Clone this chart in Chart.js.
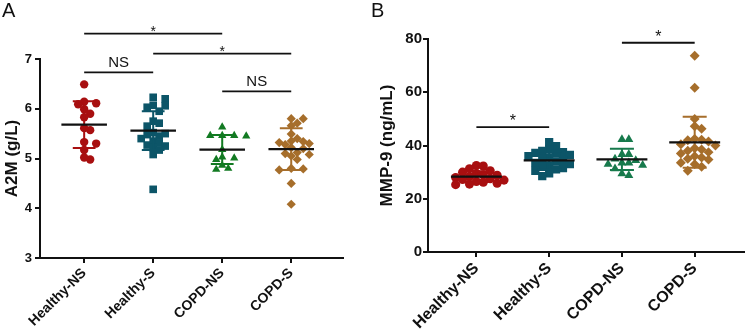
<!DOCTYPE html>
<html>
<head>
<meta charset="utf-8">
<script src="https://cdn.jsdelivr.net/npm/chart.js@4.4.0/dist/chart.umd.min.js"></script>
<style>
  body { margin: 0; background: #fff; }
  #wrap { position: relative; width: 750px; height: 335px; font-family: "Liberation Sans", Arial, sans-serif; }
  canvas { position: absolute; top: 0; }
  .tag { position: absolute; top: -1px; font-size: 20px; color: #111; }
</style>
</head>
<body>
<div id="wrap">
  <canvas id="chartA" width="375" height="335" style="left:0"></canvas>
  <canvas id="chartB" width="375" height="335" style="left:375px"></canvas>
  <div class="tag" style="left:2px">A</div>
  <div class="tag" style="left:371px">B</div>
</div>
<script>
const groups = ["Healthy-NS", "Healthy-S", "COPD-NS", "COPD-S"];
const colorsA = ["#a80f10", "#0c5568", "#127a22", "#a66e2b"];
const colorsB = ["#a80f10", "#0c5568", "#177a4c", "#a66e2b"];
const shapes = ["circle", "rect", "triangle", "rectRot"];
const radii = [4.2, 5.4, 4.8, 4.6];

// panel A - A2M (g/L)
const a2mHealthyNS = [6.49, 6.14, 6.09, 6.11, 5.99, 5.90, 5.83, 5.57, 5.61, 5.33, 5.30, 5.17, 4.98, 5.02];
const a2mHealthyS = [6.20, 6.23, 6.06, 6.03, 6.07, 5.95, 5.71, 5.75, 5.65, 5.50, 5.45, 5.52, 5.48, 5.40, 5.35, 5.27, 5.31, 5.25, 5.22, 5.17, 5.08, 4.38];
const a2mCopdNS = [5.63, 5.46, 5.46, 5.45, 5.46, 5.18, 5.01, 5.03, 4.98, 4.86, 4.78, 4.80];
const a2mCopdS = [5.80, 5.71, 5.66, 5.80, 5.49, 5.35, 5.30, 5.32, 5.28, 5.34, 5.40, 5.20, 5.22, 5.10, 5.08, 5.05, 5.12, 4.98, 4.80, 4.77, 4.79, 4.50, 4.08];
const a2mMean = [5.68, 5.56, 5.18, 5.19];
const a2mSd = [0.47, 0.39, 0.29, 0.42];
const a2mTicks = [3, 4, 5, 6, 7];

// panel B - MMP-9 (ng/mL)
const mmpHealthyNS = [32.5, 32.3, 31.3, 30.5, 30.0, 29.5, 29.0, 28.8, 28.3, 28.0, 27.5, 27.2, 27.0, 26.5, 26.2, 25.8, 25.5, 25.3];
const mmpHealthyS = [41.3, 39.8, 38.5, 38.0, 37.5, 37.2, 37.0, 36.5, 36.0, 35.5, 35.0, 34.5, 34.0, 33.5, 33.0, 32.5, 32.0, 31.5, 31.0, 30.5, 29.5, 28.5];
const mmpCopdNS = [42.3, 42.3, 36.7, 36.7, 35.0, 34.4, 33.5, 33.5, 33.0, 32.6, 31.3, 29.4, 28.8];
const mmpCopdS = [73.7, 61.7, 50.0, 47.2, 46.3, 42.5, 42.2, 42.0, 41.5, 40.5, 40.0, 39.0, 38.5, 38.0, 37.5, 37.0, 36.0, 35.5, 35.0, 34.7, 33.5, 33.0, 32.0, 30.5];
const mmpMean = [28.3, 34.4, 34.8, 41.2];
const mmpSd = [2.0, 3.4, 4.0, 9.6];
const mmpTicks = [0, 20, 40, 60, 80];

// significance brackets (group index from -> to, height in axis units)
const sigFromA = [0, 1, 0, 2];
const sigToA = [2, 3, 1, 3];
const sigYA = [7.51, 7.11, 6.73, 6.35];
const sigLabelA = ["*", "*", "NS", "NS"];
const sigFromB = [0, 2];
const sigToB = [1, 3];
const sigYB = [46.9, 78.6];
const sigLabelB = ["*", "*"];

const FONT = '"Liberation Sans", Arial, sans-serif';

// simple beeswarm: spread points sideways so they don't pile up
function swarm(vals, center, pxY, pxX, step, minD) {
  const placed = [];
  const xs = new Array(vals.length);
  const order = vals.map((v, i) => i).sort((a, b) => vals[b] - vals[a]);
  order.forEach(i => {
    const py = vals[i] * pxY;
    for (let k = 0; k < 60; k++) {
      const off = (k % 2 ? 1 : -1) * Math.ceil(k / 2) * step;
      if (placed.every(p => Math.hypot(p.x - off, p.y - py) >= minD)) {
        xs[i] = off;
        placed.push({ x: off, y: py });
        break;
      }
    }
  });
  return vals.map((v, i) => ({ x: center + xs[i] / pxX, y: v }));
}

function errBars(g, m, s) {
  const c = 0.165;
  return [
    { x: g - c, y: m + s }, { x: g + c, y: m + s }, { x: g, y: null },
    { x: g, y: m + s }, { x: g, y: m - s }, { x: g, y: null },
    { x: g - c, y: m - s }, { x: g + c, y: m - s }
  ];
}

function meanLines(means, w) {
  const out = [];
  means.forEach((m, g) => {
    out.push({ x: g - w, y: m }, { x: g + w, y: m }, { x: g, y: null });
  });
  return out;
}

function brackets(from, to, ys) {
  const out = [];
  ys.forEach((y, i) => {
    out.push({ x: from[i], y: y }, { x: to[i], y: y }, { x: to[i], y: null });
  });
  return out;
}

const sigText = {
  id: "sigText",
  afterDatasetsDraw(chart, args, o) {
    const { ctx, scales: { x, y } } = chart;
    ctx.save();
    ctx.fillStyle = "#111";
    ctx.textAlign = "center";
    ctx.textBaseline = "alphabetic";
    o.labels.forEach((t, i) => {
      const cx = x.getPixelForValue((o.from[i] + o.to[i]) / 2);
      const ly = y.getPixelForValue(o.ys[i]);
      if (t === "*") {
        ctx.font = o.starSize + "px " + FONT;
        ctx.fillText(t, cx, ly + o.starShift);
      } else {
        ctx.font = "15px " + FONT;
        ctx.fillText(t, cx, ly - 5.5);
      }
    });
    ctx.restore();
  }
};

function buildChart(id, cfg) {
  const datasets = [];
  cfg.series.forEach((vals, g) => {
    datasets.push({
      data: swarm(vals, g, cfg.pxY, cfg.pxX, cfg.step, cfg.minD),
      showLine: false,
      pointStyle: shapes[g],
      pointRadius: radii[g] * cfg.mk,
      pointBackgroundColor: cfg.colors[g],
      pointBorderColor: cfg.colors[g],
      pointBorderWidth: 0,
      order: 3
    });
    datasets.push({
      data: errBars(g, cfg.mean[g], cfg.sd[g]),
      borderColor: cfg.colors[g],
      borderWidth: 2,
      pointRadius: 0,
      spanGaps: false,
      order: 2
    });
  });
  datasets.push({
    data: meanLines(cfg.mean, cfg.meanW),
    borderColor: "#111",
    borderWidth: 2.2,
    pointRadius: 0,
    spanGaps: false,
    order: 1
  });
  datasets.push({
    data: brackets(cfg.sigFrom, cfg.sigTo, cfg.sigY),
    borderColor: "#111",
    borderWidth: 1.8,
    pointRadius: 0,
    spanGaps: false,
    clip: false,
    order: 0
  });

  return new Chart(document.getElementById(id), {
    type: "line",
    data: { datasets },
    plugins: [sigText],
    options: {
      responsive: false,
      animation: false,
      layout: { padding: cfg.padding },
      plugins: {
        legend: { display: false },
        tooltip: { enabled: false },
        sigText: { labels: cfg.sigLabel, from: cfg.sigFrom, to: cfg.sigTo, ys: cfg.sigY, starSize: cfg.starSize, starShift: cfg.starShift }
      },
      scales: {
        x: {
          type: "linear",
          min: cfg.xMin,
          max: cfg.xMax,
          afterBuildTicks: s => { s.ticks = groups.map((n, i) => ({ value: i })); },
          afterFit: s => { s.height = cfg.xHeight; },
          ticks: {
            callback: v => groups[v],
            minRotation: 45,
            maxRotation: 45,
            autoSkip: false,
            padding: 2,
            color: "#111",
            font: { family: FONT, size: cfg.catSize, weight: "bold" }
          },
          grid: { drawOnChartArea: false, drawTicks: true, tickLength: 5, color: "#111", lineWidth: 2 },
          border: { color: "#111", width: 2 }
        },
        y: {
          min: cfg.yTicks[0],
          max: cfg.yTicks[cfg.yTicks.length - 1],
          afterBuildTicks: s => { s.ticks = cfg.yTicks.map(v => ({ value: v })); },
          afterFit: s => { s.width = cfg.yWidth; },
          ticks: {
            padding: cfg.tickPad,
            color: "#111",
            font: { family: FONT, size: cfg.tickSize, weight: "bold" }
          },
          title: {
            display: true,
            text: cfg.title,
            color: "#111",
            padding: { top: 2, bottom: 0 },
            font: { family: FONT, size: 17, weight: "bold" }
          },
          grid: { drawOnChartArea: false, drawTicks: true, tickLength: 5, color: "#111", lineWidth: 2 },
          border: { color: "#111", width: 2 }
        }
      }
    }
  });
}

buildChart("chartA", {
  series: [a2mHealthyNS, a2mHealthyS, a2mCopdNS, a2mCopdS],
  mean: a2mMean, sd: a2mSd, yTicks: a2mTicks, colors: colorsA,
  sigFrom: sigFromA, sigTo: sigToA, sigY: sigYA, sigLabel: sigLabelA,
  title: "A2M (g/L)",
  pxY: 50, pxX: 69, mk: 1, step: 6, minD: 6.2, meanW: 0.33,
  xMin: -0.64, xMax: 3.75,
  padding: { top: 59, right: 32, left: 0, bottom: 0 },
  xHeight: 77, yWidth: 40,
  catSize: 14, tickSize: 13, tickPad: 3,
  starSize: 14, starShift: 2
});

buildChart("chartB", {
  series: [mmpHealthyNS, mmpHealthyS, mmpCopdNS, mmpCopdS],
  mean: mmpMean, sd: mmpSd, yTicks: mmpTicks, colors: colorsB,
  sigFrom: sigFromB, sigTo: sigToB, sigY: sigYB, sigLabel: sigLabelB,
  title: "MMP-9 (ng/mL)",
  pxY: 2.665, pxX: 73.7, mk: 1.08, step: 7, minD: 7, meanW: 0.35,
  xMin: -0.665, xMax: 3.68,
  padding: { top: 39, right: 2, left: 0, bottom: 0 },
  xHeight: 83, yWidth: 53,
  catSize: 16, tickSize: 15, tickPad: 1,
  starSize: 16, starShift: -1
});
</script>
</body>
</html>
